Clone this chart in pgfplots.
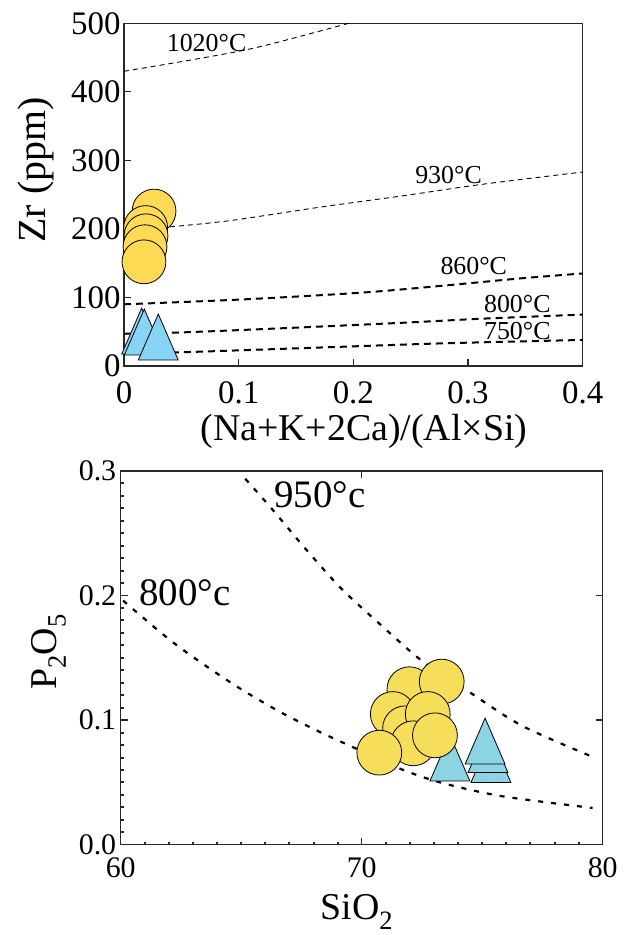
\documentclass[border=0pt]{standalone}
\usepackage{pgfplots}
\pgfplotsset{compat=1.18}
\usepackage{fontspec}
\setmainfont{Liberation Serif}
\definecolor{ycircA}{RGB}{255,218,85}
\definecolor{ycircB}{RGB}{246,221,90}
\definecolor{btriA}{RGB}{135,212,245}
\definecolor{btriB}{RGB}{140,211,228}
\definecolor{axc}{RGB}{40,40,40}
\pgfdeclareplotmark{ttri}{%
  \pgfpathmoveto{\pgfqpoint{0pt}{1.15\pgfplotmarksize}}%
  \pgfpathlineto{\pgfqpoint{-\pgfplotmarksize}{-1.15\pgfplotmarksize}}%
  \pgfpathlineto{\pgfqpoint{\pgfplotmarksize}{-1.15\pgfplotmarksize}}%
  \pgfpathclose
  \pgfusepathqfillstroke}
\pgfplotstableread{
x y
0 430
0.067 449
0.119 466
0.196 500
}\tTwenty
\pgfplotstableread{
x y
0.040 203
0.092 212
0.172 232
0.242 248
0.312 265
0.400 283
}\tNineThirty
\pgfplotstableread{
x y
0 90
0.102 97
0.207 107
0.277 117
0.347 128
0.400 135
}\tEightSixty
\pgfplotstableread{
x y
0 47
0.05 49
0.137 55
0.242 63
0.312 69
0.400 75
}\tEightHundred
\pgfplotstableread{
x y
0 18
0.05 20
0.172 27
0.277 33
0.400 38
}\tSevenFifty
\pgfplotstableread{
x y
65.17 0.2938
66.33 0.2683
67.67 0.2375
69.17 0.2053
70.83 0.1758
72.5 0.1476
74.5 0.1221
76.67 0.0953
79.67 0.0698
}\tNineFifty
\pgfplotstableread{
x y
60.1 0.196
60.67 0.1865
62 0.165
63.33 0.1462
65 0.1248
66.67 0.106
68.33 0.0899
70 0.0751
71.67 0.0604
73.33 0.0496
75.83 0.0389
79.58 0.0295
}\tEightHundredB
\begin{document}
\begin{tikzpicture}
\useasboundingbox (0bp,0bp) rectangle (629bp,935bp);
% ---------------- top panel ----------------
\begin{axis}[
  at={(124bp,569bp)}, anchor=south west, scale only axis,
  width=458.7bp, height=342.7bp,
  xmin=0, xmax=0.4, ymin=0, ymax=500,
  xtick={0,0.1,0.2,0.3,0.4}, xticklabels={0,0.1,0.2,0.3,0.4},
  ytick={0,100,200,300,400,500}, yticklabels={0,100,200,300,400,500},
  tick pos=left, tick align=inside, major tick length=7bp,
  axis line style={line width=1.3bp, axc},
  every tick/.style={line width=1.3bp, axc},
  /pgf/number format/assume math mode=true,
  ticklabel style={font=\fontsize{33}{33}\selectfont},
  x tick label style={yshift=-12bp},
  xlabel={(Na+K+2Ca)/(Al×Si)},
  every axis x label/.style={at={(axis description cs:0.523,-0.19)}, anchor=center, font=\fontsize{38}{38}\selectfont},
  ylabel={Zr (ppm)},
  every axis y label/.style={at={(axis description cs:-0.192,0.572)}, anchor=center, rotate=90, font=\fontsize{40}{40}\selectfont},
  clip=false,
]
\addplot[smooth, line width=0.9bp, dash pattern=on 5bp off 4bp] table {\tTwenty};
\addplot[smooth, line width=0.9bp, dash pattern=on 5bp off 4bp] table {\tNineThirty};
\addplot[smooth, line width=2bp, dash pattern=on 7bp off 5bp] table {\tEightSixty};
\addplot[smooth, line width=2bp, dash pattern=on 7bp off 5bp] table {\tEightHundred};
\addplot[smooth, line width=2bp, dash pattern=on 7bp off 5bp] table {\tSevenFifty};
\node[font=\fontsize{26}{26}\selectfont, inner sep=0] at (axis cs:0.072,471) {1020°C};
\node[font=\fontsize{26}{26}\selectfont, inner sep=0] at (axis cs:0.283,279) {930°C};
\node[font=\fontsize{26}{26}\selectfont, inner sep=0] at (axis cs:0.305,146) {860°C};
\node[font=\fontsize{26}{26}\selectfont, inner sep=0] at (axis cs:0.343,90) {800°C};
\node[font=\fontsize{26}{26}\selectfont, inner sep=0] at (axis cs:0.343,51) {750°C};
\addplot[only marks, mark=ttri, mark size=20, mark options={fill=btriA, draw=black, line width=0.8bp}]
  coordinates {(0.0154,51) (0.0177,49.6) (0.0299,42.3)};
\addplot[only marks, mark=*, mark size=22, mark options={fill=ycircA, draw=black, line width=0.8bp}]
  coordinates {(0.0262,226) (0.0189,202) (0.0192,190) (0.0183,174) (0.0174,152)};
\end{axis}
% ---------------- bottom panel ----------------
\begin{axis}[
  at={(120.7bp,90.3bp)}, anchor=south west, scale only axis,
  width=482bp, height=373.7bp,
  xmin=60, xmax=80, ymin=0, ymax=0.3,
  xtick={60,70,80}, xticklabels={60,70,80},
  ytick={0,0.1,0.2,0.3}, yticklabels={0.0,0.1,0.2,0.3},
  minor x tick num=9, minor y tick num=9,
  tick pos=left, tick align=inside, major tick length=7bp, minor tick length=3bp,
  axis line style={line width=1.3bp, axc},
  every tick/.style={line width=1.3bp, axc},
  every minor tick/.style={line width=2bp, axc},
  /pgf/number format/assume math mode=true,
  ticklabel style={font=\fontsize{30}{30}\selectfont},
  x tick label style={yshift=-9bp},
  y tick label style={xshift=-1bp},
  xlabel={SiO\textsubscript{2}},
  every axis x label/.style={at={(axis description cs:0.490,-0.18)}, anchor=center, font=\fontsize{38}{38}\selectfont},
  ylabel={P\textsubscript{2}O\textsubscript{5}},
  every axis y label/.style={at={(axis description cs:-0.149,0.516)}, anchor=center, rotate=90, font=\fontsize{38}{38}\selectfont},
  clip=false,
]
\addplot[smooth, line width=2.2bp, dash pattern=on 5bp off 8bp] table {\tNineFifty};
\addplot[smooth, line width=2.2bp, dash pattern=on 5bp off 8bp] table {\tEightHundredB};
\node[font=\fontsize{39}{39}\selectfont, inner sep=0] at (axis cs:68.27,0.2807) {950°c};
\node[font=\fontsize{39}{39}\selectfont, inner sep=0] at (axis cs:62.67,0.2021) {800°c};
\addplot[only marks, mark=ttri, mark size=20, mark options={fill=btriB, draw=black, line width=0.8bp}]
  coordinates {(73.66,0.0696) (75.36,0.0684) (75.24,0.0764) (75.12,0.0832)};
\addplot[only marks, mark=*, mark size=22.5, mark options={fill=ycircB, draw=black, line width=0.8bp}]
  coordinates {(71.98,0.1248) (73.32,0.1309) (71.29,0.1049) (71.80,0.0934) (72.74,0.1049) (72.14,0.0814) (73.04,0.0878) (70.73,0.0739)};
\end{axis}
\begin{axis}[
  at={(120.7bp,90.3bp)}, anchor=south west, scale only axis,
  width=482bp, height=373.7bp,
  xmin=60, xmax=80, ymin=0, ymax=0.3,
  xtick={70}, ytick={0.1,0.2}, xticklabels={}, yticklabels={},
  tick pos=right, tick align=inside, major tick length=7bp,
  axis line style={draw=none},
  every tick/.style={line width=1.3bp, axc},
]
\end{axis}
\end{tikzpicture}
\end{document}
